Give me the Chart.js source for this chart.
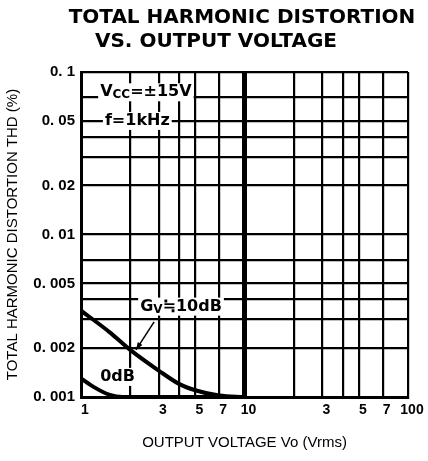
<!DOCTYPE html>
<html>
<head>
<meta charset="utf-8">
<script src="https://cdn.jsdelivr.net/npm/chart.js@4"></script>
<style>
html, body { margin: 0; padding: 0; background: #fff; }
#wrap { width: 428px; height: 461px; }
</style>
</head>
<body>
<div id="wrap"><canvas id="myChart"></canvas></div>
<script>
'use strict';

let titleLines = ['TOTAL HARMONIC DISTORTION', 'VS. OUTPUT VOLTAGE'];
let xTitle = 'OUTPUT VOLTAGE Vo (Vrms)';
let yTitle = 'TOTAL HARMONIC DISTORTION THD (%)';

let xTicks = [1, 2, 3, 4, 5, 7, 10, 20, 30, 40, 50, 70, 100];
let xTickLabels = ['1', '', '3', '', '5', '7', '10', '', '3', '', '5', '7', '100'];
let yTicks = [0.001, 0.002, 0.003, 0.004, 0.005, 0.007, 0.01, 0.02, 0.03, 0.04, 0.05, 0.07, 0.1];
let yTickLabels = ['0. 001', '0. 002', '', '', '0. 005', '', '0. 01', '0. 02', '', '', '0. 05', '', '0. 1'];

// Gv = 10dB curve
let gain10Volts = [1, 1.5, 2, 3, 4, 5, 7, 10];
let gain10Thd = [0.0034, 0.0025, 0.00195, 0.00145, 0.0012, 0.0011, 0.00102, 0.001];
// 0dB curve
let gain0Volts = [1, 1.2, 1.5, 1.8, 2.5, 10];
let gain0Thd = [0.0013, 0.00115, 0.00103, 0.001, 0.001, 0.001];

function toPoints(xs, ys) {
    let pts = [];
    for (let i = 0; i < xs.length; i++) {
        pts.push({ x: xs[i], y: ys[i] });
    }
    return pts;
}

// labels drawn on the plot, anchored at data coordinates
function drawLabel(ctx, chart, xv, yv, parts) {
    let px = chart.scales.x.getPixelForValue(xv);
    let py = chart.scales.y.getPixelForValue(yv);
    let w = 0;
    for (let p of parts) {
        ctx.font = p.font;
        w += ctx.measureText(p.text).width;
    }
    ctx.fillStyle = '#fff';
    ctx.fillRect(px - 2, py - 9, w + 4, 18);
    ctx.fillStyle = '#000';
    ctx.textBaseline = 'middle';
    ctx.textAlign = 'left';
    let cx = px;
    for (let p of parts) {
        ctx.font = p.font;
        ctx.fillText(p.text, cx, py + (p.dy || 0));
        cx += ctx.measureText(p.text).width;
    }
}

let notes = {
    id: 'notes',
    afterDraw(chart) {
        let ctx = chart.ctx;
        ctx.save();
        // title
        ctx.fillStyle = '#000';
        ctx.textAlign = 'center';
        ctx.textBaseline = 'middle';
        ctx.font = 'bold 20px "DejaVu Sans"';
        ctx.fillText(titleLines[0], 242, 18);
        ctx.fillText(titleLines[1], 216, 42);

        let big = 'bold 16px "DejaVu Sans"';
        let sub = 'bold 12px "DejaVu Sans"';
        drawLabel(ctx, chart, 1.31, 0.075, [
            { text: 'V', font: big },
            { text: 'CC', font: sub, dy: 3 },
            { text: '=±15V', font: big }
        ]);
        drawLabel(ctx, chart, 1.40, 0.05, [{ text: 'f=1kHz', font: big }]);
        drawLabel(ctx, chart, 2.3, 0.0036, [
            { text: 'G', font: big },
            { text: 'V', font: sub, dy: 3 },
            { text: '≒10dB', font: big }
        ]);
        drawLabel(ctx, chart, 1.31, 0.00133, [{ text: '0dB', font: big }]);

        // arrow to the 10dB curve
        let x = chart.scales.x;
        let y = chart.scales.y;
        let x0 = x.getPixelForValue(2.8), y0 = y.getPixelForValue(0.0029);
        let x1 = x.getPixelForValue(2.17), y1 = y.getPixelForValue(0.00195);
        ctx.strokeStyle = '#000';
        ctx.lineWidth = 1.5;
        ctx.beginPath();
        ctx.moveTo(x0, y0);
        ctx.lineTo(x1, y1);
        ctx.stroke();
        let ang = Math.atan2(y1 - y0, x1 - x0);
        ctx.beginPath();
        ctx.moveTo(x1, y1);
        ctx.lineTo(x1 - 8 * Math.cos(ang - 0.35), y1 - 8 * Math.sin(ang - 0.35));
        ctx.lineTo(x1 - 8 * Math.cos(ang + 0.35), y1 - 8 * Math.sin(ang + 0.35));
        ctx.closePath();
        ctx.fillStyle = '#000';
        ctx.fill();
        ctx.restore();
    }
};

function theChart() {
    let ctx = document.getElementById('myChart').getContext('2d');

    let chart = new Chart(ctx, {
        type: 'scatter',
        data: {
            datasets: [
                {
                    label: 'Gv=10dB',
                    data: toPoints(gain10Volts, gain10Thd),
                    showLine: true,
                    borderColor: '#000',
                    borderWidth: 4,
                    pointRadius: 0,
                    cubicInterpolationMode: 'monotone'
                },
                {
                    label: '0dB',
                    data: toPoints(gain0Volts, gain0Thd),
                    showLine: true,
                    borderColor: '#000',
                    borderWidth: 4,
                    pointRadius: 0,
                    cubicInterpolationMode: 'monotone'
                }
            ]
        },
        options: {
            responsive: true,
            maintainAspectRatio: false,
            animation: false,
            layout: { padding: { top: 72, right: 20, left: 0, bottom: 0 } },
            plugins: {
                legend: { display: false },
                tooltip: { enabled: false }
            },
            scales: {
                x: {
                    type: 'logarithmic',
                    min: 1,
                    max: 100,
                    afterFit(scale) { scale.height = 64; },
                    afterBuildTicks(scale) {
                        scale.ticks = xTicks.map(v => ({ value: v }));
                    },
                    grid: {
                        color: '#000',
                        drawTicks: false,
                        lineWidth: c => (c.tick && c.tick.value === 10 ? 5 : 2.2)
                    },
                    border: { color: '#000', width: 3 },
                    ticks: {
                        autoSkip: false,
                        maxRotation: 0,
                        padding: 5,
                        labelOffset: 4,
                        color: '#000',
                        font: { family: 'Liberation Sans', size: 14, weight: 'bold' },
                        callback: (v, i) => xTickLabels[i]
                    },
                    title: {
                        display: true,
                        text: xTitle,
                        color: '#000',
                        font: { family: 'Liberation Sans', size: 15 },
                        padding: { top: 0, bottom: 9 }
                    }
                },
                y: {
                    type: 'logarithmic',
                    min: 0.001,
                    max: 0.1,
                    afterFit(scale) { scale.width = 81; },
                    afterBuildTicks(scale) {
                        scale.ticks = yTicks.map(v => ({ value: v }));
                    },
                    grid: {
                        color: '#000',
                        drawTicks: false,
                        lineWidth: 2.2
                    },
                    border: { color: '#000', width: 3 },
                    ticks: {
                        autoSkip: false,
                        padding: 6,
                        color: '#000',
                        font: { family: 'Liberation Sans', size: 15, weight: 'bold' },
                        callback: (v, i) => yTickLabels[i]
                    },
                    title: {
                        display: true,
                        text: yTitle,
                        color: '#000',
                        font: { family: 'Liberation Sans', size: 15 },
                        padding: { top: 4, bottom: 0 }
                    }
                }
            }
        },
        plugins: [notes]
    });
    return chart;
}

theChart();
</script>
</body>
</html>
